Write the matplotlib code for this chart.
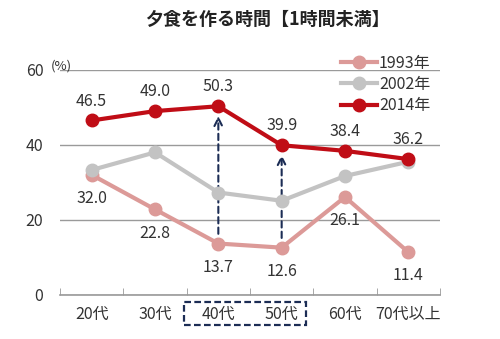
import matplotlib.pyplot as plt
from matplotlib.patches import Rectangle
import matplotlib.transforms as mtransforms

plt.rcParams['font.family'] = ['Noto Sans CJK JP', 'DejaVu Sans']

# data
categories = ["20代", "30代", "40代", "50代", "60代", "70代以上"]
y1993 = [32.0, 22.8, 13.7, 12.6, 26.1, 11.4]
y2002 = [33.3, 38.0, 27.3, 25.1, 31.7, 35.5]
y2014 = [46.5, 49.0, 50.3, 39.9, 38.4, 36.2]
series_names = ["1993年", "2002年", "2014年"]
yticks = [0, 20, 40, 60]
arrow_idx = [2, 3]  # 40代, 50代

c1993 = "#dc9a98"
c2002 = "#c3c3c3"
c2014 = "#c00d16"
navy = "#1c2d55"
txt = "#333333"

fig = plt.figure(figsize=(5.0, 3.39), dpi=100)
ax = fig.add_axes([0.12, 0.13, 0.76, 0.664])
x = list(range(len(categories)))

ax.plot(x, y1993, color=c1993, lw=3, marker="o", ms=9, label=series_names[0], zorder=3)
ax.plot(x, y2002, color=c2002, lw=3, marker="o", ms=9, label=series_names[1], zorder=3)
ax.plot(x, y2014, color=c2014, lw=3, marker="o", ms=9, label=series_names[2], zorder=4)

# value labels
for i, v in enumerate(y2014):
    ax.annotate("%.1f" % v, (i, v), xytext=(0, 14), textcoords="offset points",
                ha="center", va="center", fontsize=11.5, color=txt)
for i, v in enumerate(y1993):
    ax.annotate("%.1f" % v, (i, v), xytext=(0, -17), textcoords="offset points",
                ha="center", va="center", fontsize=11.5, color=txt)

# dashed arrows
for i in arrow_idx:
    ax.annotate("", xy=(i, y2014[i]), xytext=(i, y1993[i]),
                arrowprops=dict(arrowstyle="->", color=navy, lw=1.5, ls=(0, (3, 2)),
                                shrinkA=7, shrinkB=7, mutation_scale=14), zorder=2)

ax.set_xlim(-0.5, len(categories) - 0.5)
ax.set_ylim(0, 60)
ax.set_yticks(yticks)
ax.set_yticklabels([str(t) for t in yticks], fontsize=11.5, color=txt)
ax.tick_params(axis="y", length=0, pad=12)
ax.set_xticks(x)
ax.set_xticklabels(categories, fontsize=11.5, color=txt)
ax.set_xticks([i - 0.5 for i in range(len(categories) + 1)], minor=True)
ax.tick_params(axis="x", which="major", length=0, pad=8)
ax.tick_params(axis="x", which="minor", length=5, color="#999999", direction="in")
ax.grid(axis="y", color="#9a9a9a", lw=1)
ax.set_axisbelow(True)
for s in ["left", "right", "top"]:
    ax.spines[s].set_visible(False)
ax.spines["bottom"].set_color("#999999")
ax.spines["bottom"].set_linewidth(1.2)

ax.text(-0.64, 60.9, "(%)", fontsize=9.5, color=txt, ha="left", va="center")

# dashed box around 40代 and 50代
trans = mtransforms.blended_transform_factory(ax.transData, ax.transAxes)
box = Rectangle((1.45, -0.135), 1.93, 0.105, transform=trans, fill=False,
                ec=navy, lw=1.6, ls=(0, (3, 1.5)), clip_on=False)
ax.add_patch(box)

leg = ax.legend(loc="upper left", bbox_to_anchor=(0.722, 1.095), frameon=False,
                fontsize=11.5, handlelength=2.3, handletextpad=0.1, labelspacing=0.26,
                borderaxespad=0)
for t in leg.get_texts():
    t.set_color(txt)

fig.suptitle("夕食を作る時間【1時間未満】", x=0.535, y=0.97, fontsize=13,
             fontweight="bold", color="#222222")

fig.savefig("out.png", dpi=100, facecolor="white")
